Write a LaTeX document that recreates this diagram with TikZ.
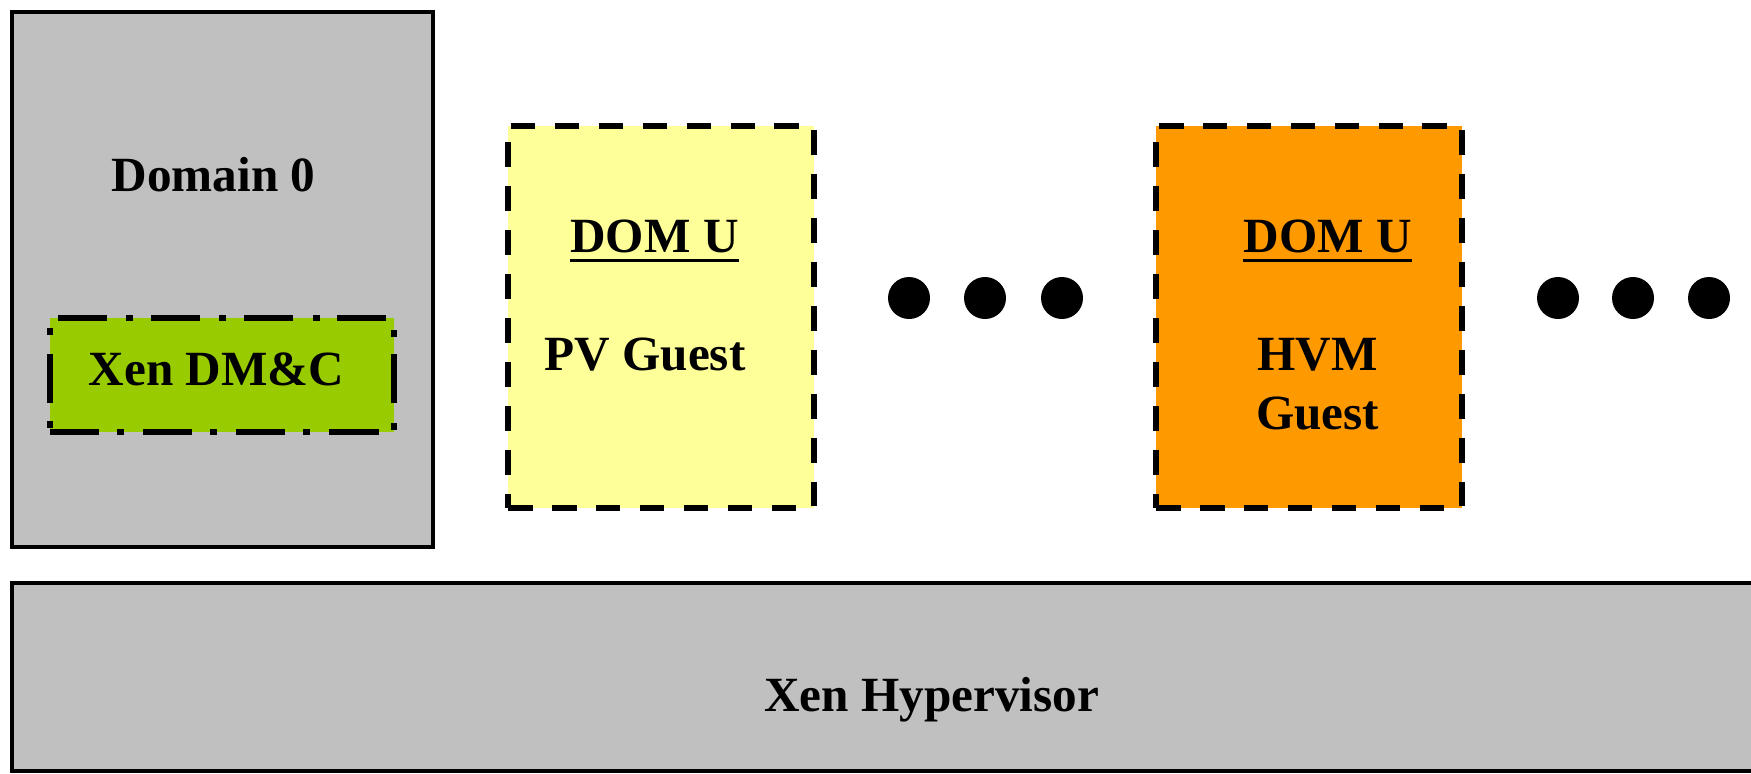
\documentclass[tikz,border=0pt]{standalone}
\usepackage{fontspec}
\setmainfont{Liberation Serif}
\definecolor{boxgray}{HTML}{C0C0C0}
\definecolor{pvyellow}{HTML}{FFFF99}
\definecolor{hvmorange}{HTML}{FF9900}
\definecolor{dmcgreen}{HTML}{99CC00}
\begin{document}
\begin{tikzpicture}[
  font=\fontsize{28}{32}\selectfont\bfseries,
  solidbox/.style={draw, line width=2.8pt, fill=boxgray, inner sep=0pt},
  guestbox/.style={draw, line width=3.2pt, dash pattern=on 14pt off 11pt, inner sep=0pt, minimum width=6.12cm, minimum height=7.64cm},
  label/.style={anchor=base, inner sep=0pt},
  underbar/.style={line width=1.6pt},
  dotmark/.style={circle, fill=black, inner sep=0pt, minimum size=0.84cm}
]
\clip (0,0) rectangle (35.02,-15.46);
\node [solidbox, minimum width=8.42cm, minimum height=10.7cm] (dom0) at (4.45,-5.59) {};
\node [label] (dom0name) at (4.27,-3.82) {Domain 0};
\node [draw, fill=dmcgreen, line width=3.2pt, dash pattern=on 28pt off 10pt on 4pt off 11pt, inner sep=0pt, minimum width=6.88cm, minimum height=2.28cm] (dmc) at (4.44,-7.50) {};
\node [label] (dmcname) at (4.33,-7.70) {Xen DM\&C};
\node [guestbox, fill=pvyellow] (pv) at (13.22,-6.34) {};
\node [label] (pvdom) at (13.09,-5.04) {DOM U};
\draw [underbar] ([yshift=-5pt]pvdom.base west) -- ([yshift=-5pt]pvdom.base east);
\node [label] (pvname) at (12.90,-7.40) {PV Guest};
\node [guestbox, fill=hvmorange] (hvm) at (26.18,-6.34) {};
\node [label] (hvmdom) at (26.55,-5.04) {DOM U};
\draw [underbar] ([yshift=-5pt]hvmdom.base west) -- ([yshift=-5pt]hvmdom.base east);
\node [label] (hvmname) at (26.35,-7.40) {HVM};
\node [label] (hvmguest) at (26.35,-8.58) {Guest};
\foreach \x [count=\i] in {18.18,19.7,21.24,31.16,32.66,34.18}
  \node [dotmark] (dot\i) at (\x,-5.96) {};
\node [solidbox, minimum width=36.72cm, minimum height=3.76cm] (hyp) at (18.6,-13.54) {};
\node [label] (hypname) at (18.63,-14.22) {Xen Hypervisor};
\end{tikzpicture}
\end{document}
